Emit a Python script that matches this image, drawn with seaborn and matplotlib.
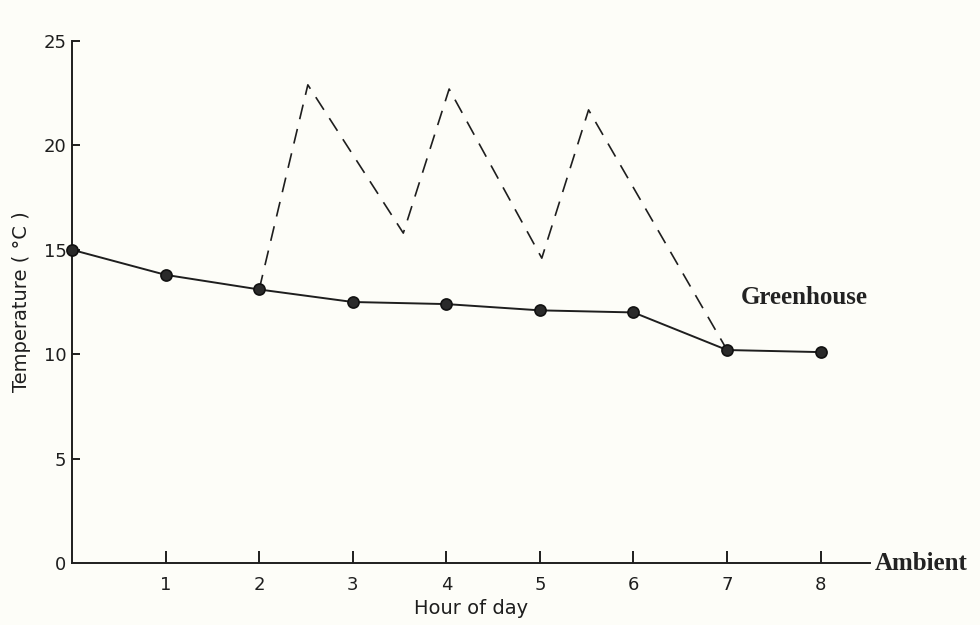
import matplotlib
matplotlib.use('Agg')
import matplotlib.pyplot as plt
import seaborn as sns

# hourly readings (solid line with markers)
hours = [0, 1, 2, 3, 4, 5, 6, 7, 8]
solid_temp = [15.0, 13.8, 13.1, 12.5, 12.4, 12.1, 12.0, 10.2, 10.1]

# dashed trace: peaks and troughs between hour 2 and hour 7
dashed_hours = [2.0, 2.52, 3.54, 4.03, 5.02, 5.52, 7.0]
dashed_temp = [13.1, 22.9, 15.8, 22.7, 14.6, 21.7, 10.2]

x_ticks = [1, 2, 3, 4, 5, 6, 7, 8]
y_ticks = [0, 5, 10, 15, 20, 25]

sns.set_style('white')
plt.rcParams['font.family'] = ['DejaVu Sans']

paper = '#fdfdf8'
ink = '#1e1e1e'

fig = plt.figure(figsize=(9.8, 6.25), dpi=100, facecolor=paper)
ax = fig.add_axes([0.0735, 0.0992, 0.8145, 0.8352], facecolor=paper)

# dashed trace
sns.lineplot(x=dashed_hours, y=dashed_temp, ax=ax, sort=False, estimator=None,
             color=ink, linewidth=1.2)
ax.lines[-1].set_linestyle((0, (9, 6)))

# solid trace with markers
sns.lineplot(x=hours, y=solid_temp, ax=ax, sort=False, estimator=None,
             color=ink, linewidth=1.4, marker='o', markersize=8,
             markerfacecolor='#2a2a2a', markeredgecolor='#111111',
             markeredgewidth=1.2, clip_on=False, zorder=5)

ax.set_xlim(0, 8.53)
ax.set_ylim(0, 25)
ax.set_xticks(x_ticks)
ax.set_yticks(y_ticks)
ax.set_xticklabels([str(t) for t in x_ticks])
ax.set_yticklabels([str(t) for t in y_ticks])

for side in ['top', 'right']:
    ax.spines[side].set_visible(False)
for side in ['left', 'bottom']:
    ax.spines[side].set_color(ink)
    ax.spines[side].set_linewidth(1.4)

ax.tick_params(axis='x', bottom=True, direction='in', length=9, width=1.4,
               colors=ink, labelsize=13, pad=9)
ax.tick_params(axis='y', left=True, direction='in', length=6, width=1.4,
               colors=ink, labelsize=13, pad=4)
ax.yaxis.get_major_ticks()[0].tick1line.set_visible(False)

ax.set_xlabel('Hour of day', fontsize=14, color=ink, labelpad=4)
ax.set_ylabel('Temperature ( °C )', fontsize=14, color=ink)
ax.yaxis.set_label_coords(-0.051, 0.5)

# series labels
ax.text(8.53 + 0.05, 0, 'Ambient', fontsize=18, fontweight='bold',
        family='Liberation Serif', color='#222222', ha='left', va='center',
        clip_on=False)
ax.text(7.83, 12.7, 'Greenhouse', fontsize=18, fontweight='bold',
        family='Liberation Serif', color='#222222', ha='center', va='center')

plt.savefig('out.png', dpi=100, facecolor=paper)
